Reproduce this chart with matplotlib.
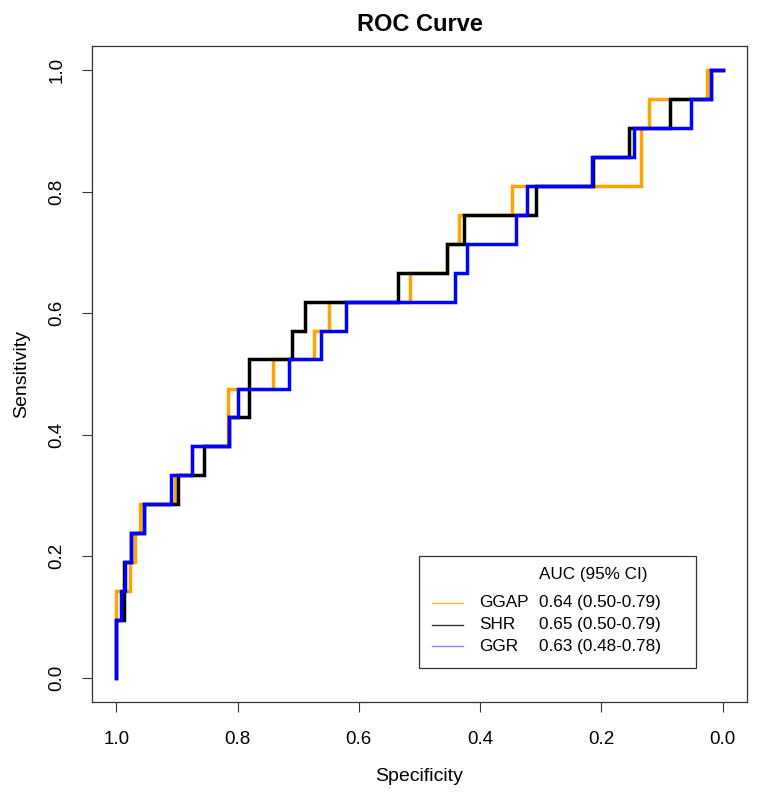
import matplotlib
matplotlib.use("Agg")
import matplotlib.pyplot as plt
from matplotlib.patches import Rectangle
from matplotlib.lines import Line2D

plt.rcParams['font.family'] = ['Liberation Sans', 'DejaVu Sans']

# ROC corner points (specificity, sensitivity)
ggap_spec = [1.000, 1.000, 0.977, 0.969, 0.961, 0.903, 0.875, 0.816, 0.741, 0.674,
             0.649, 0.515, 0.454, 0.435, 0.348, 0.134, 0.122, 0.026, 0.000]
ggap_sens = [0.000, 0.143, 0.190, 0.238, 0.286, 0.333, 0.381, 0.476, 0.524, 0.571,
             0.619, 0.667, 0.714, 0.762, 0.810, 0.905, 0.952, 1.000, 1.000]

shr_spec = [1.000, 1.000, 0.988, 0.975, 0.954, 0.898, 0.855, 0.814, 0.781, 0.710,
            0.689, 0.535, 0.454, 0.427, 0.308, 0.214, 0.154, 0.087, 0.019, 0.000]
shr_sens = [0.000, 0.095, 0.190, 0.238, 0.286, 0.333, 0.381, 0.429, 0.524, 0.571,
            0.619, 0.667, 0.714, 0.762, 0.810, 0.857, 0.905, 0.952, 1.000, 1.000]

ggr_spec = [1.000, 1.000, 0.993, 0.986, 0.975, 0.955, 0.909, 0.875, 0.814, 0.800,
            0.715, 0.663, 0.622, 0.441, 0.422, 0.341, 0.323, 0.215, 0.147, 0.053,
            0.019, 0.000]
ggr_sens = [0.000, 0.095, 0.143, 0.190, 0.238, 0.286, 0.333, 0.381, 0.429, 0.476,
            0.524, 0.571, 0.619, 0.667, 0.714, 0.762, 0.810, 0.857, 0.905, 0.952,
            1.000, 1.000]

names = ['GGAP', 'SHR', 'GGR']
auc_text = ['0.64 (0.50-0.79)', '0.65 (0.50-0.79)', '0.63 (0.48-0.78)']
colors = ['#FFA500', '#000000', '#0000FF']
legend_colors = ['#FFB833', '#333333', '#7F7FFF']

ticks = [0.0, 0.2, 0.4, 0.6, 0.8, 1.0]
tick_labels = ['0.0', '0.2', '0.4', '0.6', '0.8', '1.0']

fig = plt.figure(figsize=(7.62, 7.97), dpi=100)
ax = fig.add_axes([92/762, 95/797, 655/762, 656/797])

curves = [(ggap_spec, ggap_sens), (shr_spec, shr_sens), (ggr_spec, ggr_sens)]
for (sp, se), c in zip(curves, colors):
    ax.plot(sp, se, drawstyle='steps-post', color=c, lw=2.5, solid_joinstyle='miter')

ax.set_xlim(1.04, -0.04)
ax.set_ylim(-0.04, 1.04)
ax.set_xticks(ticks)
ax.set_xticklabels(tick_labels)
ax.set_yticks(ticks)
ax.set_yticklabels(tick_labels, rotation=90, va='center')
ax.tick_params(direction='out', length=7, width=0.8, labelsize=13.5, color='#333333')
ax.tick_params(axis='x', pad=14)
ax.tick_params(axis='y', pad=12)
for s in ax.spines.values():
    s.set_color('#333333')
    s.set_linewidth(0.9)

ax.set_xlabel('Specificity', fontsize=14, labelpad=14)
ax.set_ylabel('Sensitivity', fontsize=14, labelpad=13)
ax.set_title('ROC Curve', fontsize=17, fontweight='bold', pad=11)

# legend box drawn by hand to keep the two text columns
ax.add_patch(Rectangle((0.499, 0.052), 0.423, 0.170, transform=ax.transAxes,
                       fill=False, edgecolor='#333333', lw=0.9))
ax.text(0.682, 0.195, 'AUC (95% CI)', transform=ax.transAxes, fontsize=12.3, va='center')
rows = [0.151, 0.118, 0.085]
for y, n, a, c in zip(rows, names, auc_text, legend_colors):
    ax.add_line(Line2D([0.519, 0.566], [y, y], transform=ax.transAxes, color=c, lw=1))
    ax.text(0.591, y, n, transform=ax.transAxes, fontsize=12.3, va='center')
    ax.text(0.682, y, a, transform=ax.transAxes, fontsize=12.3, va='center')

fig.savefig('out.png', dpi=100)
